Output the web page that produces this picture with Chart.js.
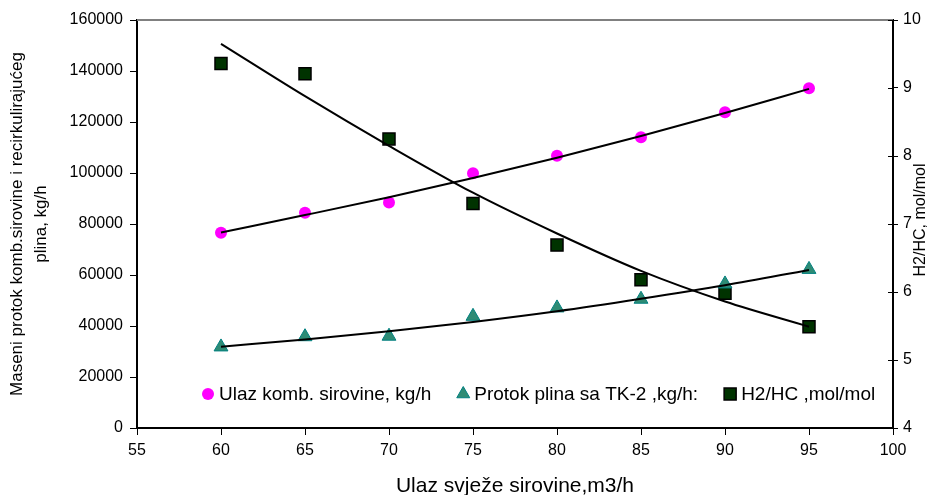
<!DOCTYPE html>
<html>
<head>
<meta charset="utf-8">
<script src="https://cdn.jsdelivr.net/npm/chart.js@4.4.1/dist/chart.umd.min.js"></script>
<style>
  html, body { margin: 0; padding: 0; background: #fff; }
  #wrap { width: 929px; height: 495px; }
</style>
</head>
<body>
<div id="wrap"><canvas id="chart" width="929" height="495"></canvas></div>
<script>
// values
const feedRate = [60, 65, 70, 75, 80, 85, 90, 95];
const combinedFeed = [76600, 84400, 88400, 99900, 106800, 114000, 123800, 133200];
const gasFlow = [31800, 35800, 36000, 43800, 47100, 50500, 56500, 62200];
const h2hc = [9.36, 9.21, 8.25, 7.30, 6.69, 6.18, 5.98, 5.49];

// trend lines as they appear in the picture
const combinedTrend = [76700, 83500, 90500, 98000, 106000, 114500, 123500, 133000];
const gasTrend = [31900, 34700, 37900, 41600, 45800, 50700, 56000, 62000];
const h2hcTrend = [9.65, 8.88, 8.15, 7.46, 6.86, 6.31, 5.86, 5.49];

const xRange = [55, 100, 5];
const yLeftRange = [0, 160000, 20000];
const yRightRange = [4, 10, 1];

const FONT = "'Liberation Sans', Arial, sans-serif";

const pts = (ys) => feedRate.map((x, i) => ({ x: x, y: ys[i] }));

function trend(ys, axis) {
    return {
        data: pts(ys), yAxisID: axis, showLine: true, inLegend: false,
        borderColor: '#000', borderWidth: 2, pointRadius: 0,
        cubicInterpolationMode: 'monotone'
    };
}

// extra bits Chart.js doesn't do by itself: top frame line, crossing ticks,
// the right-hand title reading upwards and a legend inside the plot
const extras = {
    id: 'extras',
    afterDraw(chart) {
        const ctx = chart.ctx;
        const area = chart.chartArea;
        const yR = chart.scales.yR;
        ctx.save();

        ctx.strokeStyle = '#808080';
        ctx.lineWidth = 2;
        ctx.beginPath();
        ctx.moveTo(area.left, area.top);
        ctx.lineTo(area.right, area.top);
        ctx.stroke();

        ctx.strokeStyle = '#000';
        ctx.lineWidth = 1;
        yR.ticks.forEach(t => {
            const y = Math.round(yR.getPixelForValue(t.value)) + 0.5;
            ctx.beginPath();
            ctx.moveTo(area.right - 5, y);
            ctx.lineTo(area.right, y);
            ctx.stroke();
        });

        ctx.save();
        ctx.translate(921, (area.top + area.bottom) / 2 - 4);
        ctx.rotate(-Math.PI / 2);
        ctx.fillStyle = '#000';
        ctx.font = '16px ' + FONT;
        ctx.textAlign = 'center';
        ctx.textBaseline = 'middle';
        ctx.fillText('H2/HC, mol/mol', 0, 0);
        ctx.restore();

        // legend
        ctx.font = '19px ' + FONT;
        ctx.textBaseline = 'middle';
        ctx.textAlign = 'left';
        let x = 208;
        const y = 394;
        chart.data.datasets.filter(d => d.inLegend).forEach(d => {
            ctx.fillStyle = d.backgroundColor;
            ctx.strokeStyle = d.borderColor;
            ctx.lineWidth = d.borderWidth;
            Chart.helpers.drawPoint(ctx, {
                pointStyle: d.pointStyle, radius: d.legendRadius,
                rotation: 0, borderWidth: d.borderWidth
            }, x, y);
            ctx.fillStyle = '#000';
            ctx.fillText(d.label, x + 11, y + 1);
            x += 11 + ctx.measureText(d.label).width + 32;
        });
        ctx.restore();
    }
};

new Chart(document.getElementById('chart'), {
    type: 'scatter',
    data: {
        datasets: [
            trend(combinedTrend, 'y'),
            trend(gasTrend, 'y'),
            trend(h2hcTrend, 'yR'),
            {
                label: 'Ulaz komb. sirovine, kg/h', data: pts(combinedFeed), yAxisID: 'y',
                inLegend: true, pointStyle: 'circle', pointRadius: 6, legendRadius: 6,
                backgroundColor: '#FF00FF', borderColor: '#FF00FF', borderWidth: 0
            },
            {
                label: 'Protok plina sa TK-2 ,kg/h:', data: pts(gasFlow), yAxisID: 'y',
                inLegend: true, pointStyle: 'triangle', pointRadius: 8, legendRadius: 7.5,
                backgroundColor: '#2E8B74', borderColor: '#008080', borderWidth: 1
            },
            {
                label: 'H2/HC ,mol/mol', data: pts(h2hc), yAxisID: 'yR',
                inLegend: true, pointStyle: 'rect', pointRadius: 8.5, legendRadius: 8.5,
                backgroundColor: '#003300', borderColor: '#000', borderWidth: 1.5
            }
        ]
    },
    options: {
        responsive: false,
        animation: false,
        events: [],
        layout: { padding: { top: 20, left: 0, right: 0, bottom: 0 } },
        plugins: { legend: { display: false }, tooltip: { enabled: false } },
        scales: {
            x: {
                type: 'linear', min: xRange[0], max: xRange[1],
                afterFit(s) { s.height = 67; },
                ticks: { stepSize: xRange[2], color: '#000', padding: 6, font: { family: FONT, size: 16 } },
                grid: { drawOnChartArea: false, tickLength: 7, color: '#000' },
                border: { color: '#000', width: 2 },
                title: {
                    display: true, text: 'Ulaz svježe sirovine,m3/h', color: '#000',
                    padding: 0, font: { family: FONT, size: 21, lineHeight: 0.85 }
                }
            },
            y: {
                position: 'left', min: yLeftRange[0], max: yLeftRange[1],
                afterFit(s) { s.width = 137; },
                ticks: {
                    stepSize: yLeftRange[2], color: '#000', padding: 7,
                    font: { family: FONT, size: 16 }, callback: v => String(v)
                },
                grid: { drawOnChartArea: false, tickLength: 7, color: '#000' },
                border: { color: '#000', width: 2 },
                title: {
                    display: true, color: '#000',
                    text: ['Maseni protok komb.sirovine i recirkulirajućeg', 'plina, kg/h'],
                    padding: { top: 5, bottom: 0 }, font: { family: FONT, size: 17, lineHeight: 1.44 }
                }
            },
            yR: {
                position: 'right', min: yRightRange[0], max: yRightRange[1],
                afterFit(s) { s.width = 36; },
                ticks: { stepSize: yRightRange[2], color: '#000', padding: 5, font: { family: FONT, size: 16 } },
                grid: { drawOnChartArea: false, tickLength: 5, color: '#000' },
                border: { color: '#000', width: 2 }
            }
        }
    },
    plugins: [extras]
});
</script>
</body>
</html>
